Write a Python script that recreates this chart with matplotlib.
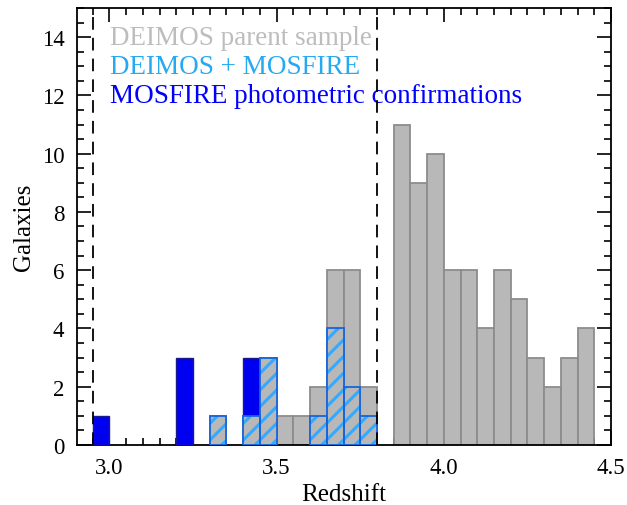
import matplotlib
matplotlib.use("Agg")
import matplotlib.pyplot as plt
from matplotlib.ticker import MultipleLocator

# bin left edges (width 0.05) and counts per sample
bin_left = [2.95, 3.00, 3.05, 3.10, 3.15, 3.20, 3.25, 3.30, 3.35, 3.40,
            3.45, 3.50, 3.55, 3.60, 3.65, 3.70, 3.75, 3.80, 3.85, 3.90,
            3.95, 4.00, 4.05, 4.10, 4.15, 4.20, 4.25, 4.30, 4.35, 4.40]
bin_width = 0.05
parent = [0, 0, 0, 0, 0, 0, 0, 1, 0, 1,
          3, 1, 1, 2, 6, 6, 2, 0, 11, 9,
          10, 6, 6, 4, 6, 5, 3, 2, 3, 4]
deimos_mosfire = [0, 0, 0, 0, 0, 0, 0, 1, 0, 1,
                  3, 0, 0, 1, 4, 2, 1, 0, 0, 0,
                  0, 0, 0, 0, 0, 0, 0, 0, 0, 0]
mosfire_phot = [1, 0, 0, 0, 0, 3, 0, 0, 0, 2,
                0, 0, 0, 0, 0, 0, 0, 0, 0, 0,
                0, 0, 0, 0, 0, 0, 0, 0, 0, 0]
z_window = [2.95, 3.80]

labels = ["DEIMOS parent sample", "DEIMOS + MOSFIRE",
          "MOSFIRE photometric confirmations"]
label_colors = ["#bdbdbd", "#27a9f2", "#0000ff"]


def nonzero(counts, base=None):
    """Keep only filled bins so empty ones draw no outline on the axis."""
    base = base or [0] * len(counts)
    keep = [i for i, c in enumerate(counts) if c > 0]
    return ([bin_left[i] for i in keep], [counts[i] for i in keep],
            [base[i] for i in keep])


plt.rcParams["font.family"] = ["Liberation Serif", "DejaVu Serif"]
plt.rcParams["hatch.linewidth"] = 2.2

fig = plt.figure(figsize=(6.27, 5.06), dpi=100)
ax = fig.add_axes([0.1228, 0.1186, 0.8517, 0.8636])

GRAY = "#b8b8b8"
x, h, _ = nonzero(parent)
ax.bar(x, h, width=bin_width, align="edge", color=GRAY,
       edgecolor="#8c8c8c", linewidth=1.3, zorder=2)
x, h, b = nonzero(mosfire_phot, deimos_mosfire)
ax.bar(x, h, bottom=b, width=bin_width, align="edge", color="#0000f0",
       edgecolor="#1a1a8c", linewidth=1.0, zorder=3)
# hatched overlay: hatch in light blue, then outline in darker blue
x, h, _ = nonzero(deimos_mosfire)
ax.bar(x, h, width=bin_width, align="edge", color=GRAY,
       edgecolor="#33aaff", hatch="//", linewidth=0, zorder=4)
ax.bar(x, h, width=bin_width, align="edge", fill=False,
       edgecolor="#1565dd", linewidth=1.3, zorder=5)

for z in z_window:
    ax.axvline(z, color="black", linestyle=(0, (7, 4.5)), linewidth=1.3, zorder=6)

for i, (txt, col) in enumerate(zip(labels, label_colors)):
    ax.text(3.003, 14.0 - i, txt, color=col, fontsize=19.5, va="center", ha="left")

ax.set_xlim(2.903, 4.5)
ax.set_ylim(0, 15)
ax.xaxis.set_major_locator(MultipleLocator(0.5))
ax.xaxis.set_minor_locator(MultipleLocator(0.05))
ax.yaxis.set_major_locator(MultipleLocator(2))
ax.yaxis.set_minor_locator(MultipleLocator(0.5))
ax.tick_params(which="both", direction="in", top=True, right=True,
               labelsize=16.5, width=1.2)
ax.tick_params(which="major", length=10, pad=9)
ax.tick_params(which="minor", length=5)
for s in ax.spines.values():
    s.set_linewidth(1.3)

ax.set_xlabel("Redshift", fontsize=18, labelpad=3)
ax.set_ylabel("Galaxies", fontsize=18, labelpad=4.5)

fig.savefig("out.png", dpi=100)
